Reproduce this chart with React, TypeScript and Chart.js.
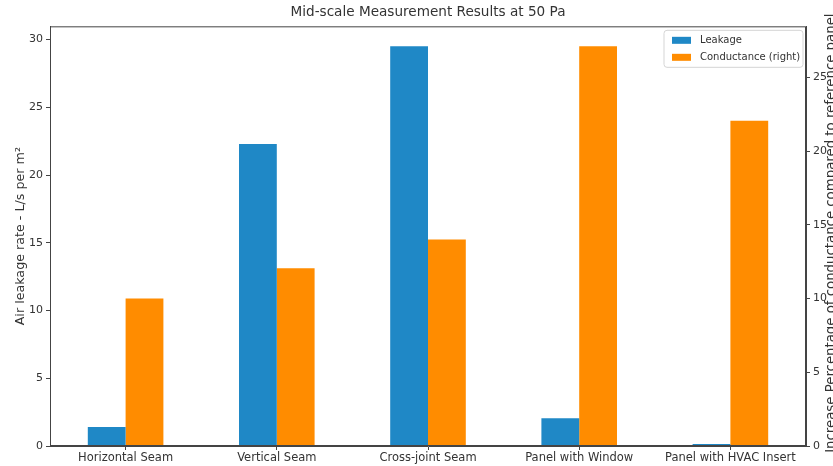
import React, { useEffect, useRef } from "react";
import { Chart, registerables } from "chart.js";

Chart.register(...registerables);

const categories = [
  "Horizontal Seam",
  "Vertical Seam",
  "Cross-joint Seam",
  "Panel with Window",
  "Panel with HVAC Insert",
];
const leakage = [1.4, 22.3, 29.5, 2.05, 0.15];
const conductance = [10.0, 12.05, 14.0, 27.1, 22.05];
const leftTicks = [0, 5, 10, 15, 20, 25, 30];
const rightTicks = [0, 5, 10, 15, 20, 25];

const seriesNames = ["Leakage", "Conductance (right)"];
const colors = ["#1f88c6", "#ff8c00"];
const titleText = "Mid-scale Measurement Results at 50 Pa";
const leftTitle = "Air leakage rate - L/s per m²";
const rightTitle = "Increase Percentage of conductance compared to reference panel";

const FONT = "'DejaVu Sans', sans-serif";
const INK = "#333";
const SPINE = "#444";

const framePlugin = {
  id: "frameAndLegend",
  afterDraw(chart: any) {
    const { ctx, chartArea } = chart;
    const { left, right, top, bottom } = chartArea;
    ctx.save();
    // frame
    ctx.strokeStyle = SPINE;
    ctx.lineWidth = 1;
    ctx.strokeRect(left + 0.5, top + 0.5, right - left - 1, bottom - top - 1);

    // legend
    const lx = right - 142;
    const ly = top + 4;
    const lw = 139;
    const lh = 37;
    ctx.beginPath();
    const r = 3;
    ctx.moveTo(lx + r, ly);
    ctx.lineTo(lx + lw - r, ly);
    ctx.quadraticCurveTo(lx + lw, ly, lx + lw, ly + r);
    ctx.lineTo(lx + lw, ly + lh - r);
    ctx.quadraticCurveTo(lx + lw, ly + lh, lx + lw - r, ly + lh);
    ctx.lineTo(lx + r, ly + lh);
    ctx.quadraticCurveTo(lx, ly + lh, lx, ly + lh - r);
    ctx.lineTo(lx, ly + r);
    ctx.quadraticCurveTo(lx, ly, lx + r, ly);
    ctx.closePath();
    ctx.fillStyle = "rgba(255,255,255,0.8)";
    ctx.fill();
    ctx.strokeStyle = "#d5d5d5";
    ctx.stroke();
    ctx.font = `10px ${FONT}`;
    ctx.textBaseline = "middle";
    ctx.textAlign = "left";
    seriesNames.forEach((name, i) => {
      const cy = ly + 10 + i * 17;
      ctx.fillStyle = colors[i];
      ctx.fillRect(lx + 8, cy - 3.5, 19, 7);
      ctx.fillStyle = INK;
      ctx.fillText(name, lx + 36, cy);
    });

    // right axis title (reads bottom to top)
    ctx.translate(chart.width + 2, (top + bottom) / 2 - 3);
    ctx.rotate(-Math.PI / 2);
    ctx.font = `13.3px ${FONT}`;
    ctx.textAlign = "center";
    ctx.textBaseline = "alphabetic";
    ctx.fillStyle = INK;
    ctx.fillText(rightTitle, 0, 0);
    ctx.restore();
  },
};

export default function App() {
  const ref = useRef<HTMLCanvasElement>(null);
  useEffect(() => {
    document.body.style.margin = "0";
    if (!ref.current) return;
    const chart = new Chart(ref.current, {
      type: "bar",
      data: {
        labels: categories,
        datasets: [
          {
            label: seriesNames[0],
            data: leakage,
            backgroundColor: colors[0],
            yAxisID: "y",
            categoryPercentage: 0.5,
            barPercentage: 1.0,
          },
          {
            label: seriesNames[1],
            data: conductance,
            backgroundColor: colors[1],
            yAxisID: "y1",
            categoryPercentage: 0.5,
            barPercentage: 1.0,
          },
        ],
      },
      options: {
        responsive: false,
        animation: false,
        layout: { padding: 0 },
        plugins: {
          legend: { display: false },
          tooltip: { enabled: false },
          title: {
            display: true,
            text: titleText,
            fullSize: false,
            color: INK,
            font: { family: FONT, size: 13.6, weight: "normal" },
            padding: { top: 4, bottom: 6 },
          },
        },
        scales: {
          x: {
            grid: {
              display: true,
              drawOnChartArea: false,
              drawTicks: true,
              tickLength: 4,
              tickColor: SPINE,
              offset: false,
            },
            border: { display: true, color: SPINE },
            ticks: {
              color: INK,
              font: { family: FONT, size: 11.5 },
              padding: 1,
              maxRotation: 0,
              autoSkip: false,
            },
            afterFit: (s: any) => {
              s.height = 20;
            },
          },
          y: {
            position: "left",
            min: 0,
            max: 30.98,
            afterBuildTicks: (s: any) => {
              s.ticks = leftTicks.map((v) => ({ value: v }));
            },
            ticks: {
              color: INK,
              font: { family: FONT, size: 11 },
              padding: 3,
              includeBounds: false,
            },
            grid: {
              display: true,
              drawOnChartArea: false,
              tickLength: 4,
              tickColor: SPINE,
            },
            border: { display: true, color: SPINE },
            title: {
              display: true,
              text: leftTitle,
              color: INK,
              font: { family: FONT, size: 12.7 },
              padding: { top: 13, bottom: 0 },
            },
            afterFit: (s: any) => {
              s.width = 50;
            },
          },
          y1: {
            position: "right",
            min: 0,
            max: 28.46,
            afterBuildTicks: (s: any) => {
              s.ticks = rightTicks.map((v) => ({ value: v }));
            },
            ticks: {
              color: INK,
              font: { family: FONT, size: 11 },
              padding: 3,
              includeBounds: false,
            },
            grid: {
              display: true,
              drawOnChartArea: false,
              tickLength: 4,
              tickColor: SPINE,
            },
            border: { display: true, color: SPINE },
            afterFit: (s: any) => {
              s.width = 27;
            },
          },
        },
      },
      plugins: [framePlugin],
    } as any);
    return () => chart.destroy();
  }, []);
  return (
    <div style={{ width: 833, height: 466 }}>
      <canvas ref={ref} width={833} height={466} />
    </div>
  );
}
